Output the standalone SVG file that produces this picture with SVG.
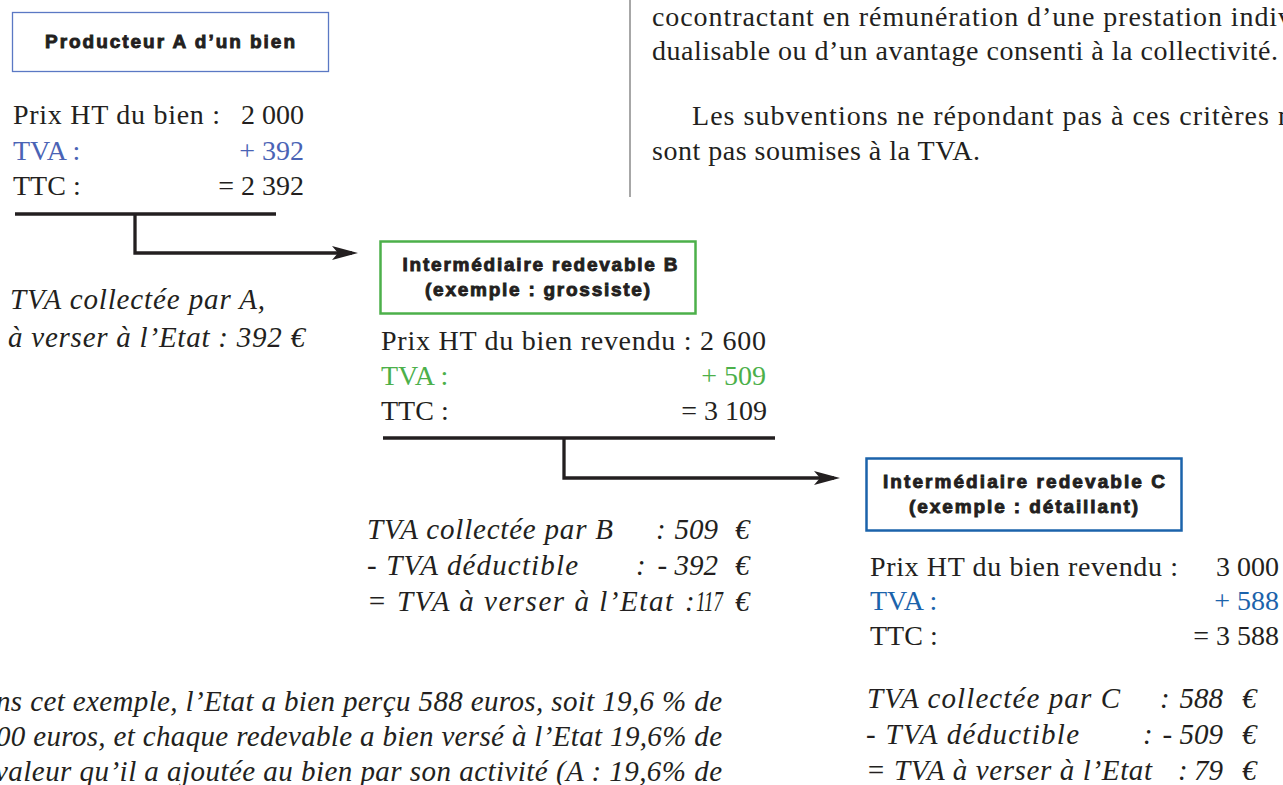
<svg xmlns="http://www.w3.org/2000/svg" width="1283" height="785" viewBox="0 0 1283 785">
<style>
.s{font-family:"Liberation Serif","Times New Roman",serif;font-size:28px;fill:#231f20}
.i{font-family:"Liberation Serif","Times New Roman",serif;font-size:29px;font-style:italic;fill:#231f20}
.b{font-family:"Liberation Sans",Arial,sans-serif;font-size:19px;font-weight:bold;fill:#231f20;stroke:#231f20;stroke-width:0.9;text-anchor:middle}
.e{text-anchor:end}
.ca{fill:#4a63b5}
.cb{fill:#4cb04a}
.cc{fill:#1b63ab}
.ln{fill:none;stroke:#231f20;stroke-width:3.3}
</style>
<defs>
<marker id="arr" viewBox="0 0 26 14" refX="20" refY="7" markerWidth="26" markerHeight="14" markerUnits="userSpaceOnUse" orient="auto">
<path d="M0,0 L26,7 L0,14 L6,7 Z" fill="#231f20"/>
</marker>
</defs>
<rect width="1283" height="785" fill="#ffffff"/>

<g id="column-text">
<line x1="630" y1="0" x2="630" y2="197" stroke="#8a8a8a" stroke-width="1.5"/>
<text class="s" x="652" y="26" textLength="640" lengthAdjust="spacing">cocontractant en rémunération d’une prestation indiv</text>
<text class="s" x="652" y="60" textLength="626" lengthAdjust="spacing">dualisable ou d’un avantage consenti à la collectivité.</text>
<text class="s" x="692" y="125" textLength="600" lengthAdjust="spacing">Les subventions ne répondant pas à ces critères n</text>
<text class="s" x="652" y="160" textLength="328" lengthAdjust="spacing">sont pas soumises à la TVA.</text>
</g>

<g id="nodeA">
<rect x="12.5" y="12.5" width="316" height="59" fill="none" stroke="#5b78c4" stroke-width="1.3"/>
<text class="b" x="170" y="48" textLength="250" lengthAdjust="spacing">Producteur A d’un bien</text>
<text class="s" x="13" y="124" textLength="207" lengthAdjust="spacing">Prix HT du bien :</text>
<text class="s e" x="304" y="124">2 000</text>
<text class="s ca" x="13" y="160">TVA :</text>
<text class="s e ca" x="304" y="160">+ 392</text>
<text class="s" x="13" y="195">TTC :</text>
<text class="s e" x="304" y="195">= 2 392</text>
<text class="i" x="10" y="309" textLength="255" lengthAdjust="spacing">TVA collectée par A,</text>
<text class="i" x="8" y="347" textLength="297" lengthAdjust="spacing">à verser à l’Etat : 392 €</text>
</g>

<g id="nodeB">
<rect x="380.5" y="241.5" width="315" height="72" fill="none" stroke="#4cb04a" stroke-width="2.5"/>
<text class="b" x="540" y="271" textLength="275" lengthAdjust="spacing">Intermédiaire redevable B</text>
<text class="b" x="537.5" y="296" textLength="225" lengthAdjust="spacing">(exemple : grossiste)</text>
<text class="s" x="381" y="350" textLength="385" lengthAdjust="spacing">Prix HT du bien revendu : 2 600</text>
<text class="s cb" x="381" y="385">TVA :</text>
<text class="s e cb" x="766" y="385">+ 509</text>
<text class="s" x="381" y="420">TTC :</text>
<text class="s e" x="767" y="420">= 3 109</text>
<text class="i" x="367" y="539" textLength="246" lengthAdjust="spacing">TVA collectée par B</text>
<text class="i" x="656" y="539">:</text>
<text class="i e" x="718" y="539">509</text>
<text class="i" x="735" y="539">€</text>
<text class="i" x="367" y="575" textLength="211" lengthAdjust="spacing">- TVA déductible</text>
<text class="i" x="636" y="575">:</text>
<text class="i e" x="718" y="575">- 392</text>
<text class="i" x="735" y="575">€</text>
<text class="i" x="367" y="611" textLength="306" lengthAdjust="spacing">= TVA à verser à l’Etat</text>
<text class="i" x="685" y="611">:</text>
<text class="i" x="696" y="611" textLength="27" lengthAdjust="spacingAndGlyphs">117</text>
<text class="i" x="735" y="611">€</text>
</g>

<g id="nodeC">
<rect x="866.5" y="458.5" width="315" height="72" fill="none" stroke="#1b63ab" stroke-width="2.5"/>
<text class="b" x="1024" y="488" textLength="282" lengthAdjust="spacing">Intermédiaire redevable C</text>
<text class="b" x="1023.5" y="513" textLength="229" lengthAdjust="spacing">(exemple : détaillant)</text>
<text class="s" x="870" y="576" textLength="308" lengthAdjust="spacing">Prix HT du bien revendu :</text>
<text class="s e" x="1279" y="576">3 000</text>
<text class="s cc" x="870" y="610">TVA :</text>
<text class="s e cc" x="1279" y="610">+ 588</text>
<text class="s" x="870" y="645">TTC :</text>
<text class="s e" x="1279" y="645">= 3 588</text>
<text class="i" x="867" y="708" textLength="253" lengthAdjust="spacing">TVA collectée par C</text>
<text class="i" x="1160" y="708">:</text>
<text class="i e" x="1223" y="708">588</text>
<text class="i" x="1242" y="708">€</text>
<text class="i" x="866" y="744" textLength="213" lengthAdjust="spacing">- TVA déductible</text>
<text class="i" x="1143" y="744">:</text>
<text class="i e" x="1223" y="744">- 509</text>
<text class="i" x="1242" y="744">€</text>
<text class="i" x="866" y="780" textLength="286" lengthAdjust="spacing">= TVA à verser à l’Etat</text>
<text class="i" x="1178" y="780">:</text>
<text class="i e" x="1223" y="780">79</text>
<text class="i" x="1242" y="780">€</text>
</g>

<g id="conclusion">
<text class="i e" x="722" y="711" textLength="726" lengthAdjust="spacing">ns cet exemple, l’Etat a bien perçu 588 euros, soit 19,6 % de</text>
<text class="i e" x="722" y="746" textLength="726" lengthAdjust="spacing">00 euros, et chaque redevable a bien versé à l’Etat 19,6% de</text>
<text class="i e" x="722" y="781" textLength="727" lengthAdjust="spacing">valeur qu’il a ajoutée au bien par son activité (A : 19,6% de</text>
</g>

<g id="connectors">
<line class="ln" x1="15" y1="214" x2="276" y2="214"/>
<path class="ln" d="M135,214 V253 H352" marker-end="url(#arr)"/>
<line class="ln" x1="383" y1="438" x2="775" y2="438"/>
<path class="ln" d="M564,438 V478 H834" marker-end="url(#arr)"/>
</g>
</svg>
